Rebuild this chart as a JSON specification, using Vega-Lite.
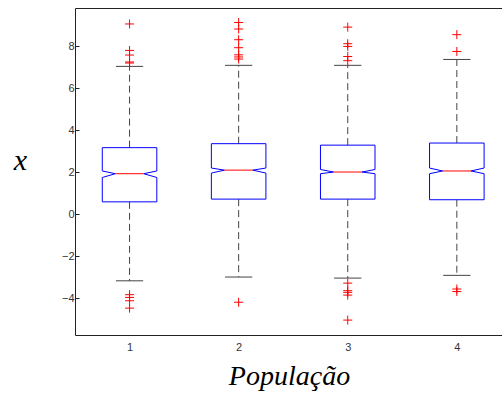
{
  "$schema": "https://vega.github.io/schema/vega-lite/v6.json",
  "width": 427,
  "height": 327,
  "autosize": "none",
  "padding": {"left": 75, "top": 8, "right": 0, "bottom": 61},
  "background": "white",
  "config": {
    "view": {"stroke": null},
    "axis": {
      "labelFont": "Liberation Sans",
      "labelFontSize": 11,
      "labelColor": "#333333",
      "domainColor": "#222222",
      "tickColor": "#222222",
      "grid": false,
      "titleFont": "Liberation Serif",
      "titleFontStyle": "italic",
      "titleFontWeight": "normal",
      "titleColor": "#000000"
    }
  },
  "resolve": {"axis": {"x": "independent", "y": "independent"}},
  "datasets": {
    "stats": [
      {"pop": 1, "q1": 0.60, "median": 1.94, "q3": 3.18, "nlo": 1.76, "nhi": 2.07, "wlo": -3.16, "whi": 7.05},
      {"pop": 2, "q1": 0.73, "median": 2.11, "q3": 3.37, "nlo": 1.97, "nhi": 2.21, "wlo": -2.98, "whi": 7.10},
      {"pop": 3, "q1": 0.73, "median": 2.02, "q3": 3.30, "nlo": 1.94, "nhi": 2.14, "wlo": -3.03, "whi": 7.10},
      {"pop": 4, "q1": 0.70, "median": 2.07, "q3": 3.40, "nlo": 1.94, "nhi": 2.21, "wlo": -2.90, "whi": 7.38}
    ],
    "outliers": [
      {"pop": 1, "value": 9.07}, {"pop": 1, "value": 7.81}, {"pop": 1, "value": 7.59}, {"pop": 1, "value": 7.26}, {"pop": 1, "value": 7.21},
      {"pop": 1, "value": -3.82}, {"pop": 1, "value": -3.95}, {"pop": 1, "value": -4.11}, {"pop": 1, "value": -4.46},
      {"pop": 2, "value": 9.14}, {"pop": 2, "value": 8.83}, {"pop": 2, "value": 8.32}, {"pop": 2, "value": 7.94}, {"pop": 2, "value": 7.60}, {"pop": 2, "value": 7.50}, {"pop": 2, "value": 7.40},
      {"pop": 2, "value": -4.18},
      {"pop": 3, "value": 8.92}, {"pop": 3, "value": 8.13}, {"pop": 3, "value": 8.00}, {"pop": 3, "value": 7.52}, {"pop": 3, "value": 7.32},
      {"pop": 3, "value": -3.27}, {"pop": 3, "value": -3.63}, {"pop": 3, "value": -3.71}, {"pop": 3, "value": -3.84}, {"pop": 3, "value": -5.03},
      {"pop": 4, "value": 8.56}, {"pop": 4, "value": 7.76},
      {"pop": 4, "value": -3.55}, {"pop": 4, "value": -3.67}
    ]
  },
  "layer": [
    {
      "data": {"name": "stats"},
      "mark": {"type": "rule", "color": "#444444", "strokeDash": [7, 4], "strokeWidth": 1},
      "encoding": {
        "x": {"field": "pop", "type": "quantitative",
          "scale": {"domain": [0.5, 4.414], "nice": false, "zero": false},
          "axis": {"values": [1, 2, 3, 4], "format": "d", "ticks": false, "labelPadding": 6, "domain": true,
            "title": "População", "titleFontSize": 28, "titlePadding": 10, "titleX": 214}},
        "y": {"field": "q3", "type": "quantitative",
          "scale": {"domain": [-5.74, 9.83], "nice": false, "zero": false},
          "axis": {"values": [-4, -2, 0, 2, 4, 6, 8], "tickSize": -4, "labelPadding": 5, "domain": true,
            "title": "x", "titleFontSize": 30, "titleAngle": 0, "titleAlign": "center", "titleBaseline": "middle",
            "titleX": -55, "titleY": 152}},
        "y2": {"field": "whi"}
      }
    },
    {
      "data": {"name": "stats"},
      "mark": {"type": "rule", "color": "#444444", "strokeDash": [7, 4], "strokeWidth": 1},
      "encoding": {
        "x": {"field": "pop", "type": "quantitative",
          "axis": {"orient": "top", "labels": false, "ticks": false, "domain": true, "title": null}},
        "y": {"field": "q1", "type": "quantitative", "axis": null},
        "y2": {"field": "wlo"}
      }
    },
    {
      "data": {"name": "stats"},
      "transform": [
        {"calculate": "datum.pop - 0.125", "as": "cl"},
        {"calculate": "datum.pop + 0.125", "as": "cr"},
        {"fold": ["whi", "wlo"], "as": ["which", "cap"]}
      ],
      "mark": {"type": "rule", "color": "#444444", "strokeWidth": 1},
      "encoding": {
        "x": {"field": "cl", "type": "quantitative", "axis": null},
        "x2": {"field": "cr"},
        "y": {"field": "cap", "type": "quantitative", "axis": null}
      }
    },
    {
      "data": {"name": "stats"},
      "transform": [
        {"calculate": "datum.pop - 0.25", "as": "xl"},
        {"calculate": "datum.pop + 0.25", "as": "xr"},
        {"fold": ["q1", "q3"], "as": ["which", "edge"]}
      ],
      "mark": {"type": "rule", "color": "#0000ff", "strokeWidth": 1},
      "encoding": {
        "x": {"field": "xl", "type": "quantitative", "axis": null},
        "x2": {"field": "xr"},
        "y": {"field": "edge", "type": "quantitative", "axis": null}
      }
    },
    {
      "data": {"name": "stats"},
      "transform": [
        {"calculate": "datum.pop - 0.25", "as": "xl"},
        {"calculate": "datum.pop + 0.25", "as": "xr"},
        {"fold": ["xl", "xr"], "as": ["side", "sx"]}
      ],
      "mark": {"type": "rule", "color": "#0000ff", "strokeWidth": 1},
      "encoding": {
        "x": {"field": "sx", "type": "quantitative", "axis": null},
        "y": {"field": "q3", "type": "quantitative", "axis": null},
        "y2": {"field": "nhi"}
      }
    },
    {
      "data": {"name": "stats"},
      "transform": [
        {"calculate": "datum.pop - 0.25", "as": "xl"},
        {"calculate": "datum.pop + 0.25", "as": "xr"},
        {"fold": ["xl", "xr"], "as": ["side", "sx"]}
      ],
      "mark": {"type": "rule", "color": "#0000ff", "strokeWidth": 1},
      "encoding": {
        "x": {"field": "sx", "type": "quantitative", "axis": null},
        "y": {"field": "nlo", "type": "quantitative", "axis": null},
        "y2": {"field": "q1"}
      }
    },
    {
      "data": {"name": "stats"},
      "transform": [
        {"calculate": "datum.pop - 0.25", "as": "xl"},
        {"calculate": "datum.pop - 0.13", "as": "nl"},
        {"fold": ["nhi", "nlo"], "as": ["which", "ny"]}
      ],
      "mark": {"type": "rule", "color": "#0000ff", "strokeWidth": 1},
      "encoding": {
        "x": {"field": "xl", "type": "quantitative", "axis": null},
        "y": {"field": "ny", "type": "quantitative", "axis": null},
        "x2": {"field": "nl"},
        "y2": {"field": "median"}
      }
    },
    {
      "data": {"name": "stats"},
      "transform": [
        {"calculate": "datum.pop + 0.25", "as": "xr"},
        {"calculate": "datum.pop + 0.13", "as": "nr"},
        {"fold": ["nhi", "nlo"], "as": ["which", "ny"]}
      ],
      "mark": {"type": "rule", "color": "#0000ff", "strokeWidth": 1},
      "encoding": {
        "x": {"field": "xr", "type": "quantitative", "axis": null},
        "y": {"field": "ny", "type": "quantitative", "axis": null},
        "x2": {"field": "nr"},
        "y2": {"field": "median"}
      }
    },
    {
      "data": {"name": "stats"},
      "transform": [
        {"calculate": "datum.pop - 0.13", "as": "nl"},
        {"calculate": "datum.pop + 0.13", "as": "nr"}
      ],
      "mark": {"type": "rule", "color": "#ff0000", "strokeWidth": 1},
      "encoding": {
        "x": {"field": "nl", "type": "quantitative", "axis": null},
        "x2": {"field": "nr"},
        "y": {"field": "median", "type": "quantitative", "axis": null}
      }
    },
    {
      "data": {"name": "outliers"},
      "mark": {"type": "point", "shape": "M-1,0H1M0,-1V1", "filled": false, "stroke": "#ff0000", "strokeWidth": 1, "size": 81, "opacity": 1},
      "encoding": {
        "x": {"field": "pop", "type": "quantitative", "axis": null},
        "y": {"field": "value", "type": "quantitative", "axis": null}
      }
    }
  ]
}
